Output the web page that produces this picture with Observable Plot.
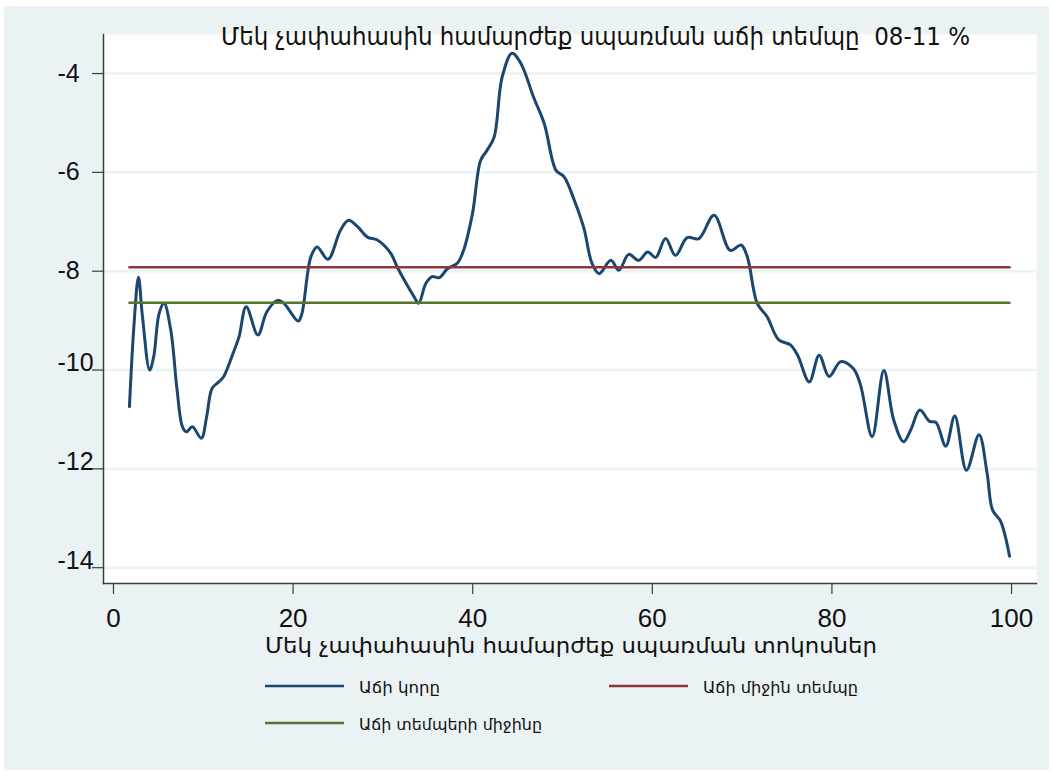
<!DOCTYPE html>
<html>
<head>
<meta charset="utf-8">
<script src="https://cdn.jsdelivr.net/npm/d3@7"></script>
<script src="https://cdn.jsdelivr.net/npm/@observablehq/plot@0.6"></script>
<style>
  html, body { margin: 0; padding: 0; background: #ffffff; }
  #chart { width: 1053px; height: 772px; }
</style>
</head>
<body>
<div id="chart"></div>
<script>
// ---- Data ----
const titleText = "Մեկ չափահասին համարժեք սպառման աճի տեմպը  08-11 %";
const xAxisTitle = "Մեկ չափահասին համարժեք սպառման տոկոսներ";
const seriesNames = ["Աճի կորը", "Աճի միջին տեմպը", "Աճի տեմպերի միջինը"];

const growthX = [1.0, 1.5, 2.0, 2.45, 3.25, 3.7, 4.3, 4.85, 5.6, 6.3,
  6.9, 7.35, 8.0, 9.0, 9.6, 10.2, 10.95, 11.5, 12.6, 13.2,
  14.0, 15.3, 16.3, 17.5, 18.2, 19.8, 20.2, 21.2, 21.9, 23.1,
  24.5, 25.4, 26.4, 27.5, 28.6, 30.1, 30.8, 31.6, 32.7, 33.2,
  34.0, 34.7, 35.5, 36.4, 37.5, 38.2, 39.2, 40.1, 40.8, 41.6,
  42.5, 43.6, 44.6, 46.0, 47.2, 48.5, 49.4, 50.5, 51.6, 52.5,
  53.3, 54.6, 55.5, 56.6, 57.7, 58.7, 59.6, 60.7, 61.8, 63.1,
  64.4, 66.1, 67.9, 69.1, 69.8, 70.9, 72.0, 73.3, 74.6, 75.4,
  76.7, 77.8, 78.9, 80.2, 81.6, 82.4, 83.7, 85.0, 86.1, 87.2,
  88.0, 89.0, 90.1, 90.8, 91.9, 92.9, 94.2, 95.6, 96.5, 97.1,
  98.0, 99.0];
const growthY = [-10.74, -9.1, -8.12, -8.92, -10.0, -9.73, -8.86, -8.65, -9.19, -10.4,
  -11.15, -11.25, -11.15, -11.38, -10.94, -10.37, -10.24, -10.13, -9.63, -9.33,
  -8.72, -9.29, -8.82, -8.59, -8.65, -9.01, -8.86, -7.71, -7.51, -7.76,
  -7.17, -6.97, -7.1, -7.31, -7.37, -7.64, -7.91, -8.18, -8.52, -8.65,
  -8.25, -8.11, -8.13, -7.95, -7.84, -7.58, -6.83, -5.76, -5.56, -5.29,
  -4.07, -3.59, -3.8, -4.48, -5.02, -5.96, -6.09, -6.55, -7.13, -7.84,
  -8.05, -7.78, -7.98, -7.66, -7.78, -7.61, -7.72, -7.34, -7.68, -7.32,
  -7.34, -6.87, -7.58, -7.47, -7.71, -8.65, -8.92, -9.39, -9.49, -9.7,
  -10.24, -9.7, -10.13, -9.83, -9.97, -10.3, -11.35, -10.01, -11.01, -11.45,
  -11.21, -10.81, -11.04, -11.06, -11.54, -10.93, -12.03, -11.31, -12.09, -12.83,
  -13.06, -13.77];

const refRange = [1, 99];
const meanGrowthRate = -7.92;   // Աճի միջին տեմպը
const meanOfRates = -8.64;      // Աճի տեմպերի միջինը

const xTicks = [0, 20, 40, 60, 80, 100];
const yTicks = [-4, -6, -8, -10, -12, -14];

// ---- Styling ----
const NAVY = "#1a476f", MAROON = "#90353b", GREEN = "#55752f";
const BG = "#eaf2f3", AX = "#3c3c3c";
const ARM = "'DejaVu Sans Condensed', 'DejaVu Sans', sans-serif";

const pts = growthX.map((x, i) => ({x, y: growthY[i]}));

const svg = Plot.plot({
  width: 1053,
  height: 772,
  marginLeft: 103,
  marginRight: 17,
  marginTop: 34,
  marginBottom: 189,
  style: {background: "transparent", fontFamily: "'Liberation Sans', Arial, sans-serif", overflow: "visible"},
  x: {domain: [-1.89, 102.0]},
  y: {domain: [-14.32, -3.21]},
  marks: [
    Plot.frame({fill: "white", stroke: null}),
    Plot.gridY(yTicks, {stroke: BG, strokeOpacity: 1, strokeWidth: 2.5}),
    Plot.line(pts, {x: "x", y: "y", curve: "catmull-rom", stroke: NAVY, strokeWidth: 3}),
    Plot.line(refRange, {x: d => d, y: () => meanGrowthRate, stroke: MAROON, strokeWidth: 2.5}),
    Plot.line(refRange, {x: d => d, y: () => meanOfRates, stroke: GREEN, strokeWidth: 2.5}),
    Plot.axisY(yTicks, {tickSize: 11, tickFormat: () => "", label: null, stroke: AX, strokeWidth: 1.2}),
    Plot.axisX(xTicks, {tickSize: 11, tickPadding: 14, tickFormat: d => String(d), label: null,
      fontSize: 26, dx: -7, stroke: AX, fill: "#111", strokeWidth: 1.2}),
    Plot.text(yTicks.filter(d => d > -10), {y: d => d, text: d => String(d), frameAnchor: "left",
      textAnchor: "start", dx: -46, fontSize: 25, fill: "#111"}),
    Plot.text(yTicks.filter(d => d <= -10), {y: d => d, text: d => String(d), frameAnchor: "left",
      textAnchor: "start", dx: -46, dy: -7, fontSize: 25, fill: "#111"}),
    Plot.frame({anchor: "left", stroke: AX, strokeWidth: 1.5}),
    Plot.frame({anchor: "bottom", stroke: AX, strokeWidth: 1.5})
  ]
});

const s = d3.select(svg);
// graph region background
s.insert("rect", ":first-child")
  .attr("x", 4).attr("y", 6).attr("width", 1045).attr("height", 764)
  .attr("fill", BG);

// title
s.append("text")
  .attr("x", 221).attr("y", 45).attr("text-anchor", "start")
  .attr("font-family", ARM).attr("font-size", 24).attr("fill", "#111")
  .attr("textLength", 749).attr("lengthAdjust", "spacingAndGlyphs")
  .text(titleText);

// x-axis title
s.append("text")
  .attr("x", 265).attr("y", 653).attr("text-anchor", "start")
  .attr("font-family", ARM).attr("font-size", 22).attr("fill", "#111")
  .attr("textLength", 612).attr("lengthAdjust", "spacingAndGlyphs")
  .text(xAxisTitle);

// legend
const legendItems = [
  {name: seriesNames[0], color: NAVY, lx: 265, ly: 686, tx: 359, ty: 693, tw: 81},
  {name: seriesNames[1], color: MAROON, lx: 609, ly: 686, tx: 703, ty: 693, tw: 155},
  {name: seriesNames[2], color: GREEN, lx: 265, ly: 723, tx: 359, ty: 730, tw: 183}
];
const lg = s.append("g");
legendItems.forEach(it => {
  lg.append("line")
    .attr("x1", it.lx).attr("x2", it.lx + 79)
    .attr("y1", it.ly).attr("y2", it.ly)
    .attr("stroke", it.color).attr("stroke-width", 2.5);
  lg.append("text")
    .attr("x", it.tx).attr("y", it.ty).attr("text-anchor", "start")
    .attr("font-family", ARM).attr("font-size", 16).attr("fill", "#111")
    .attr("textLength", it.tw).attr("lengthAdjust", "spacingAndGlyphs")
    .text(it.name);
});

document.getElementById("chart").appendChild(svg);
</script>
</body>
</html>
